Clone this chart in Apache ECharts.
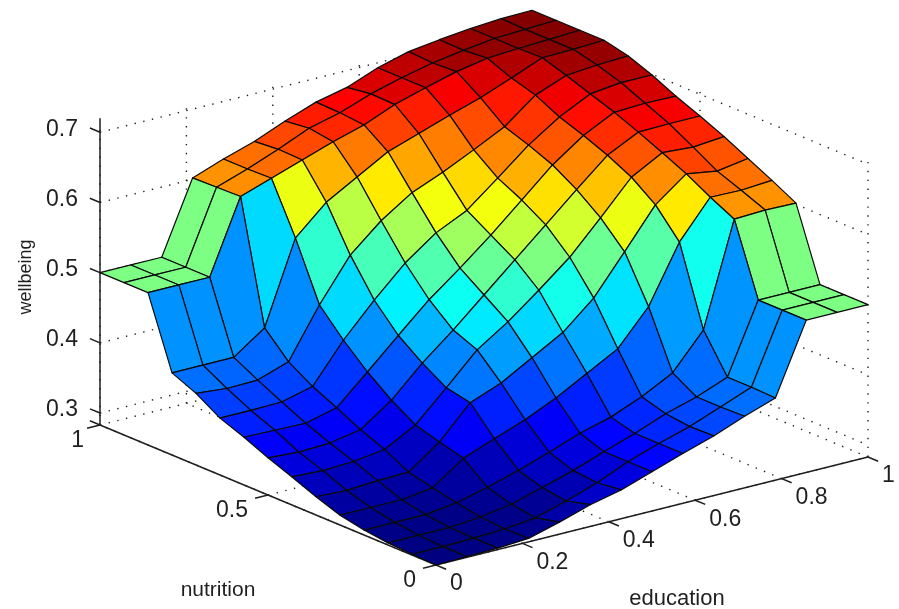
<!DOCTYPE html>
<html>
<head>
<meta charset="utf-8">
<style>html,body{margin:0;padding:0;background:#fff}#c{width:899px;height:609px}</style>
<script src="https://cdn.jsdelivr.net/npm/echarts@6/dist/echarts.min.js"></script>
</head>
<body>
<div id="c"></div>
<script>
// wellbeing values: one list per nutrition step, each running over 15 education steps
const nutritionRow00 = [.283,.284,.285,.288,.300,.314,.324,.339,.354,.368,.385,.400,.500,.500,.500];
const nutritionRow01 = [.284,.284,.285,.287,.292,.305,.320,.339,.354,.367,.384,.401,.500,.500,.500];
const nutritionRow02 = [.286,.286,.286,.290,.297,.310,.323,.339,.354,.371,.384,.401,.500,.500,.500];
const nutritionRow03 = [.290,.290,.290,.296,.307,.320,.335,.351,.363,.381,.404,.454,.601,.603,.602];
const nutritionRow04 = [.297,.297,.297,.303,.334,.351,.367,.387,.411,.435,.484,.565,.618,.617,.620];
const nutritionRow05 = [.309,.307,.310,.311,.343,.388,.405,.430,.455,.493,.548,.604,.637,.630,.637];
const nutritionRow06 = [.323,.321,.323,.329,.353,.395,.438,.467,.501,.537,.582,.629,.653,.650,.654];
const nutritionRow07 = [.336,.333,.335,.343,.374,.416,.452,.491,.530,.569,.608,.646,.668,.669,.669];
const nutritionRow08 = [.351,.350,.349,.360,.400,.441,.481,.515,.551,.590,.629,.660,.682,.684,.683];
const nutritionRow09 = [.364,.364,.365,.376,.431,.477,.519,.551,.572,.607,.643,.672,.694,.699,.699];
const nutritionRow10 = [.385,.381,.382,.397,.467,.527,.565,.594,.612,.633,.655,.689,.706,.710,.712];
const nutritionRow11 = [.400,.400,.400,.431,.548,.588,.613,.638,.653,.668,.682,.699,.717,.718,.720];
const nutritionRow12 = [.500,.500,.500,.604,.619,.634,.649,.662,.680,.693,.705,.713,.716,.718,.720];
const nutritionRow13 = [.500,.500,.500,.603,.618,.635,.654,.665,.681,.693,.703,.710,.716,.718,.720];
const nutritionRow14 = [.500,.500,.500,.602,.618,.632,.650,.666,.676,.693,.705,.711,.716,.719,.720];
const wellbeing = [nutritionRow00,nutritionRow01,nutritionRow02,nutritionRow03,nutritionRow04,
  nutritionRow05,nutritionRow06,nutritionRow07,nutritionRow08,nutritionRow09,nutritionRow10,
  nutritionRow11,nutritionRow12,nutritionRow13,nutritionRow14];

const educationTicks = [0, 0.2, 0.4, 0.6, 0.8, 1];
const nutritionTicks = [0, 0.5, 1];
const wellbeingTicks = [0.3, 0.4, 0.5, 0.6, 0.7];
const educationLabels = ['0','0.2','0.4','0.6','0.8','1'];
const nutritionLabels = ['0','0.5','1'];
const wellbeingLabels = ['0.3','0.4','0.5','0.6','0.7'];

const zMin = 0.283, zMax = 0.72, zWall = 0.714;
const steps = wellbeing.length - 1;

// oblique view of the (education, nutrition, wellbeing) box onto the hidden plane axes
function project(e, n, z) {
  return [432 * e - 336 * n, 108 * e + 140 * n + 702 * (z - zMin)];
}
function jet(t) {
  t = Math.max(0, Math.min(1, t));
  const f = c => Math.round(255 * Math.max(0, Math.min(1, 1.5 - Math.abs(4 * t - c))));
  return 'rgb(' + f(3) + ',' + f(2) + ',' + f(1) + ')';
}

// cells, painted from the far corner to the near corner
const cells = [];
for (let s = 2 * steps - 2; s >= 0; s--) {
  for (let j = 0; j < steps; j++) {
    const i = s - j;
    if (i >= 0 && i < steps) cells.push([i, j]);
  }
}

// dotted grid on the two back walls and the floor: [e0,n0,z0,e1,n1,z1]
const gridSegs = [];
educationTicks.forEach(e => {
  gridSegs.push([e,1,zMin,e,1,zWall]);
  gridSegs.push([e,0,zMin,e,1,zMin]);
});
nutritionTicks.forEach(n => {
  gridSegs.push([1,n,zMin,1,n,zWall]);
  gridSegs.push([0,n,zMin,1,n,zMin]);
});
wellbeingTicks.forEach(z => {
  gridSegs.push([0,1,z,1,1,z]);
  gridSegs.push([1,1,z,1,0,z]);
});

// axis lines and tick marks: [e0,n0,z0,e1,n1,z1]
const axisSegs = [[0,0,zMin,1,0,zMin],[0,0,zMin,0,1,zMin],[0,1,zMin,0,1,zMax]];
educationTicks.forEach(e => axisSegs.push([e,0,zMin,e,-0.03,zMin]));
nutritionTicks.forEach(n => axisSegs.push([0,n,zMin,-0.03,n,zMin]));
wellbeingTicks.concat([zMin]).forEach(z => axisSegs.push([0,1,z,0,1.03,z]));

const tickText = [];
educationTicks.forEach((e,k) => tickText.push({p:[e,0,zMin], s:educationLabels[k], a:'left', dx:14, dy:19}));
nutritionTicks.forEach((n,k) => tickText.push({p:[0,n,zMin], s:nutritionLabels[k], a:'right', dx:n===1?-16:-20, dy:16}));
wellbeingTicks.forEach((z,k) => tickText.push({p:[0,1,z], s:wellbeingLabels[k], a:'right', dx:-22, dy:-3}));

const FONT = '"Liberation Sans", Arial, sans-serif';
const INK = '#1f1f1f';

function segSeries(data, style, z) {
  return {
    type:'custom', coordinateSystem:'cartesian2d', silent:true, clip:false, z:z,
    encode:{x:0,y:1}, data:data,
    renderItem:function(params, api){
      const d = data[params.dataIndex];
      const a = api.coord(project(d[0],d[1],d[2]));
      const b = api.coord(project(d[3],d[4],d[5]));
      return {type:'line', shape:{x1:a[0],y1:a[1],x2:b[0],y2:b[1]}, style:style};
    }
  };
}

const chart = echarts.init(document.getElementById('c'), null, {renderer:'canvas'});
chart.setOption({
  animation:false,
  backgroundColor:'#ffffff',
  grid:{left:0,top:0,width:899,height:609,containLabel:false,show:false},
  xAxis:{type:'value',min:-436,max:463,show:false},
  yAxis:{type:'value',min:-44,max:565,show:false},
  tooltip:{show:false},
  series:[
    segSeries(gridSegs,{stroke:'#222',lineWidth:1.4,lineDash:[1.4,7.5],fill:null},1),
    segSeries(axisSegs,{stroke:INK,lineWidth:1.5,fill:null},2),
    {
      type:'custom', coordinateSystem:'cartesian2d', silent:true, clip:false, z:3,
      encode:{x:0,y:1}, data:cells,
      renderItem:function(params, api){
        const c = cells[params.dataIndex], i = c[0], j = c[1];
        const pt = (a,b) => api.coord(project(a/steps, b/steps, wellbeing[b][a]));
        return {
          type:'polygon',
          shape:{points:[pt(i,j),pt(i+1,j),pt(i+1,j+1),pt(i,j+1)]},
          style:{fill:jet((wellbeing[j][i]-zMin)/(zMax-zMin)),stroke:'#0a0a0a',lineWidth:1.2,lineJoin:'round'}
        };
      }
    },
    {
      type:'custom', coordinateSystem:'cartesian2d', silent:true, clip:false, z:4,
      encode:{x:0,y:1}, data:tickText.map((t,k)=>[k,0]),
      renderItem:function(params, api){
        const t = tickText[params.dataIndex];
        const a = api.coord(project(t.p[0],t.p[1],t.p[2]));
        return {type:'text', x:a[0]+t.dx, y:a[1]+t.dy,
          style:{text:t.s, fill:INK, font:'23px '+FONT, textAlign:t.a, textVerticalAlign:'middle'}};
      }
    }
  ],
  graphic:[
    {type:'text',x:218,y:590,style:{text:'nutrition',fill:INK,font:'21px '+FONT,textAlign:'center',textVerticalAlign:'middle'}},
    {type:'text',x:677,y:599,style:{text:'education',fill:INK,font:'22px '+FONT,textAlign:'center',textVerticalAlign:'middle'}},
    {type:'text',x:26,y:277,rotation:Math.PI/2,style:{text:'wellbeing',fill:INK,font:'18px '+FONT,textAlign:'center',textVerticalAlign:'middle'}}
  ]
});
</script>
</body>
</html>
